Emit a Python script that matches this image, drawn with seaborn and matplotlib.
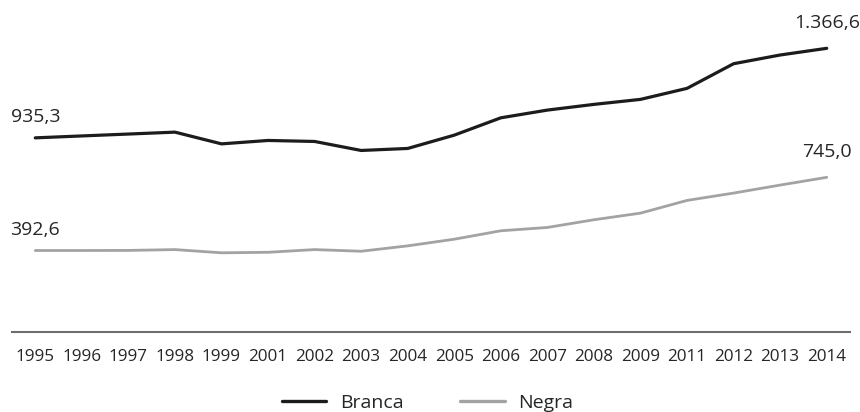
import matplotlib
matplotlib.use("Agg")
import matplotlib.pyplot as plt
import seaborn as sns
import pandas as pd

years = ["1995", "1996", "1997", "1998", "1999", "2001", "2002", "2003", "2004",
         "2005", "2006", "2007", "2008", "2009", "2011", "2012", "2013", "2014"]
branca = [935.3, 944.5, 953.6, 962.8, 906.3, 922.7, 917.9, 874.5, 884.2,
          948.3, 1031.8, 1069.0, 1096.5, 1120.6, 1173.7, 1292.4, 1334.4, 1366.6]
negra = [392.6, 392.6, 393.0, 397.0, 381.5, 384.0, 397.0, 389.0, 415.0,
         447.0, 487.6, 503.6, 540.7, 572.6, 633.9, 669.2, 707.8, 745.0]
series_names = ["Branca", "Negra"]
colors = {"Branca": "#1c1c1c", "Negra": "#a3a3a3"}

df = pd.DataFrame({
    "ano": years * 2,
    "valor": branca + negra,
    "grupo": [series_names[0]] * len(years) + [series_names[1]] * len(years),
})

sns.set_theme(style="white")
plt.rcParams["font.family"] = ["Open Sans", "DejaVu Sans"]

fig = plt.figure(figsize=(8.6, 4.12), dpi=100)
ax = fig.add_axes([12 / 860, 80 / 412, 838 / 860, 301 / 412])

sns.lineplot(data=df, x="ano", y="valor", hue="grupo", palette=colors,
             linewidth=2.0, ax=ax, legend=True, sort=False)
for line, lw in zip(ax.get_lines(), [2.3, 2.0]):
    line.set_linewidth(lw)

ax.set_xlim(-0.5, 17.5)
ax.set_ylim(0, 1450)
ax.set_xlabel("")
ax.set_ylabel("")
ax.set_yticks([])
for side in ["top", "right", "left"]:
    ax.spines[side].set_visible(False)
ax.spines["bottom"].set_color("#6e6e6e")
ax.spines["bottom"].set_linewidth(1.5)
ax.tick_params(axis="x", length=0, pad=12, labelsize=12.3, labelcolor="#262626")


def fmt(v):
    s = f"{v:,.1f}"
    return s.replace(",", "X").replace(".", ",").replace("X", ".")


last = len(years) - 1
for vals in (branca, negra):
    ax.annotate(fmt(vals[0]), (0, vals[0]), xytext=(0, 11.5), textcoords="offset points",
                ha="center", va="baseline", fontsize=14, color="#262626",
                annotation_clip=False)
    ax.annotate(fmt(vals[last]), (last, vals[last]), xytext=(0, 14.5), textcoords="offset points",
                ha="center", va="baseline", fontsize=14, color="#262626",
                annotation_clip=False)

handles, labels = ax.get_legend_handles_labels()
ax.legend_.remove()
leg = fig.legend(handles, labels, loc="center", bbox_to_anchor=(0.497, 9 / 412),
                 ncol=2, frameon=False, fontsize=14, handlelength=2.3,
                 handletextpad=0.7, columnspacing=2.9, labelcolor="#262626")
for h in leg.legend_handles:
    h.set_linewidth(2.4)

fig.savefig("out.png", dpi=100)
